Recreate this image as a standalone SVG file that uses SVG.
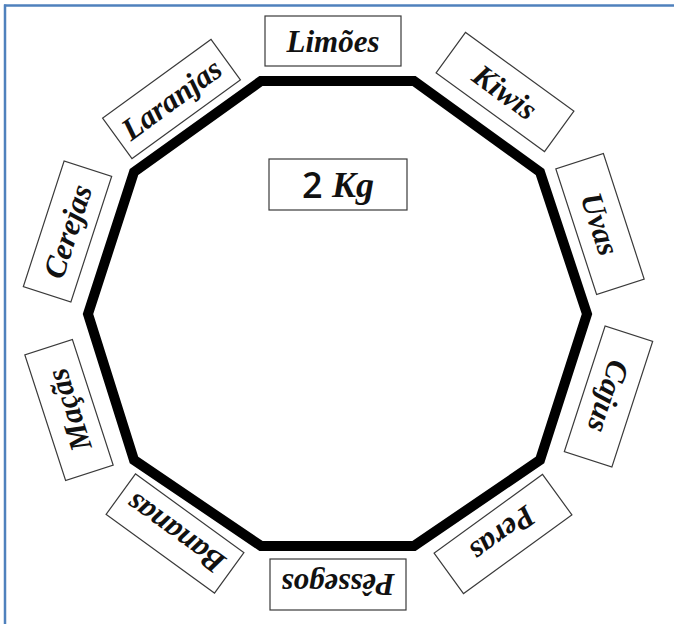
<svg xmlns="http://www.w3.org/2000/svg" width="674" height="624" viewBox="0 0 674 624">
  <style>
    .frame { stroke: #4F81BD; stroke-width: 2.5; fill: none; }
    .box { fill: #ffffff; stroke: #3a3a3a; stroke-width: 1.2; }
    .lbl { font-family: "Liberation Serif", "DejaVu Serif", serif; font-style: italic; font-weight: bold; font-size: 31px; fill: #111111; text-anchor: middle; dominant-baseline: central; }
    .kg { font-family: "Open Sans", "Liberation Sans", sans-serif; font-weight: 600; font-size: 36px; fill: #111111; text-anchor: middle; dominant-baseline: central; }
    .poly { fill: none; stroke: #000000; stroke-width: 10; stroke-linejoin: miter; }
  </style>
  <rect width="674" height="624" fill="#ffffff"/>
  <g id="frame">
    <line class="frame" x1="4" y1="5.5" x2="674" y2="5.5"/>
    <line class="frame" x1="5" y1="4.5" x2="5" y2="624"/>
  </g>
  <g id="decagon">
    <polygon class="poly" points="261,81 414,81 540,172 587,314 540,460 414,546 261,546 134,460 88,314 134,172"/>
  </g>
  <g id="connectors"></g>
  <g id="limoes" transform="translate(333,41)">
    <rect class="box" x="-68" y="-25" width="136" height="50"/>
    <text class="lbl" x="0" y="0">Limões</text>
  </g>
  <g id="kiwis" transform="translate(505,92) rotate(36)">
    <rect class="box" x="-67" y="-25" width="134" height="50"/>
    <text class="lbl" x="0" y="0">Kiwis</text>
  </g>
  <g id="uvas" transform="translate(600,224) rotate(72)">
    <rect class="box" x="-66" y="-25" width="132" height="50"/>
    <text class="lbl" x="0" y="0">Uvas</text>
  </g>
  <g id="cajus" transform="translate(608.5,396.5) rotate(108)">
    <rect class="box" x="-66" y="-25" width="132" height="50"/>
    <text class="lbl" x="0" y="0">Cajus</text>
  </g>
  <g id="peras" transform="translate(503,534) rotate(144)">
    <rect class="box" x="-67" y="-25" width="134" height="50"/>
    <text class="lbl" x="0" y="0">Peras</text>
  </g>
  <g id="pessegos" transform="translate(338,584.5) rotate(180)">
    <rect class="box" x="-68" y="-25.5" width="136" height="51"/>
    <text class="lbl" x="0" y="0">Pêssegos</text>
  </g>
  <g id="bananas" transform="translate(175,533.5) rotate(216)">
    <rect class="box" x="-67" y="-25" width="134" height="50"/>
    <text class="lbl" x="0" y="0">Bananas</text>
  </g>
  <g id="macas" transform="translate(69,410) rotate(-108)">
    <rect class="box" x="-66" y="-25" width="132" height="50"/>
    <text class="lbl" x="0" y="0">Maçãs</text>
  </g>
  <g id="cerejas" transform="translate(67.5,231.5) rotate(-72)">
    <rect class="box" x="-66" y="-25" width="132" height="50"/>
    <text class="lbl" x="0" y="0">Cerejas</text>
  </g>
  <g id="laranjas" transform="translate(171.5,99) rotate(-36)">
    <rect class="box" x="-67" y="-25" width="134" height="50"/>
    <text class="lbl" x="0" y="0">Laranjas</text>
  </g>
  <g id="peso" transform="translate(338,184.5)">
    <rect class="box" x="-69" y="-25.5" width="138" height="51"/>
    <text class="kg" x="0" y="0">2 <tspan font-family="Liberation Serif, serif" font-style="italic">Kg</tspan></text>
  </g>
</svg>
